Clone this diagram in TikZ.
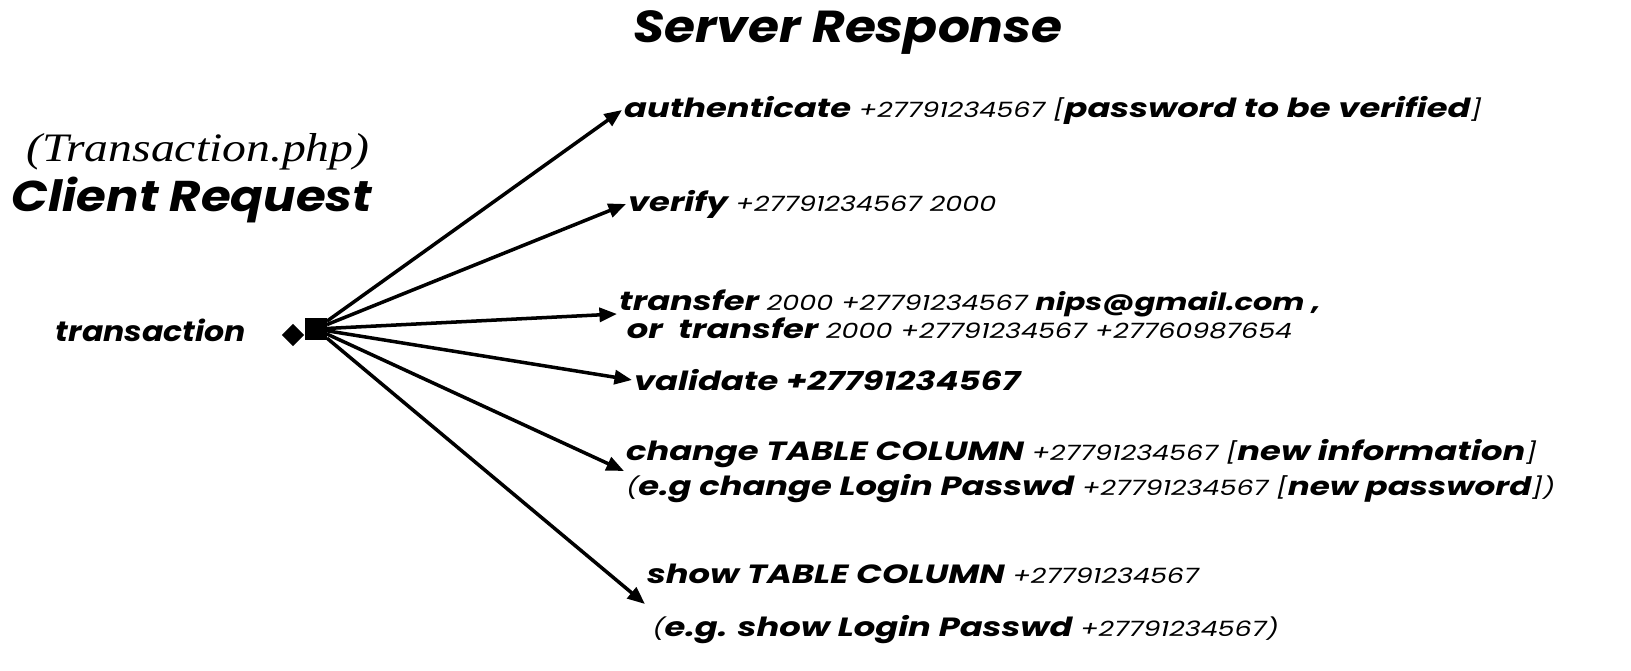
\documentclass[tikz,border=0pt]{standalone}
\usepackage{fontspec}
\setmainfont{Poppins}[FakeStretch=1.12]
\newfontfamily\respfont{Poppins}[FakeStretch=1.28]
\newfontfamily\phpfont{Liberation Serif}[FakeStretch=1.18]
\usetikzlibrary{arrows.meta, positioning}

\newcommand{\nr}[1]{{\mdseries\fontsize{12}{14}\selectfont #1}}

\begin{document}
\begin{tikzpicture}[x=0.02cm, y=-0.02cm,
   every node/.style = {font=\bfseries\itshape, inner sep=1pt},
   resp/.style = {anchor=west, align=left, font=\respfont\bfseries\itshape\fontsize{15}{18}\selectfont},
   link/.style = {line width=2pt, -{Triangle[length=10pt, width=8pt]}}]
   \useasboundingbox (0,0) rectangle (1631,671);

   \node (title) at (848,33) {\fontsize{25.5}{30}\selectfont Server Response};
   \node (php) at (198,152) {\phpfont\mdseries\itshape\fontsize{23}{26}\selectfont (Transaction.php)};
   \node (client) at (192,200) {\fontsize{24.5}{28}\selectfont Client Request};
   \node (trans) at (151,330) {\fontsize{16}{19}\selectfont transaction};

   % hub
   \node[fill, rotate=45, minimum size=9pt, inner sep=0pt] (dot) at (293,335) {};
   \node[fill, minimum size=12pt, inner sep=0pt] (hub) at (316,329) {};

   % responses
   \node[resp] (auth) at (622,110) {authenticate \nr{+27791234567 [}password to be verified\nr{]}};
   \node[resp] (verify) at (626,204) {verify \nr{+27791234567 2000}};
   \node[resp] (transfer) at (617,314) {transfer \nr{2000 +27791234567} {\fontsize{13.5}{16}\selectfont nips@gmail.com ,}\\[-2pt]
      \ or\ \ transfer \nr{2000 +27791234567 +27760987654}};
   \node[resp] (valid) at (632,380) {validate +27791234567};
   \node[resp] (change) at (624,471) {change TABLE COLUMN \nr{+27791234567 [}new information\nr{]}\\[2pt]
      \nr{(}e.g change Login Passwd \nr{+27791234567 [}{\fontsize{14.5}{17}\selectfont new password}\nr{])}};
   \node[resp] (show) at (645,604) {show TABLE COLUMN \nr{+27791234567}\\[12pt]
      \hspace{3pt}\nr{(}e.g. show Login Passwd \nr{+27791234567)}};

   \foreach \t in {auth, verify, transfer, valid, change, show}
      \draw[link] (hub) -- (\t.west);
\end{tikzpicture}
\end{document}
